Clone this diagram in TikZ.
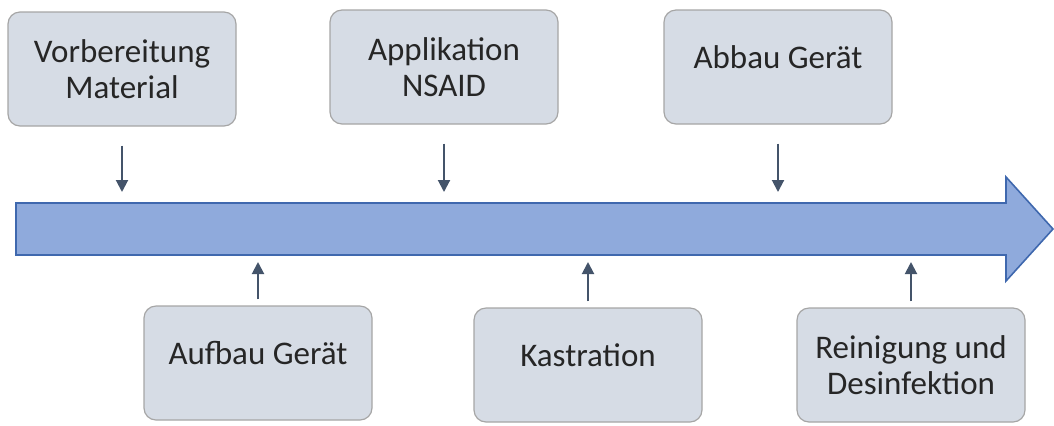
\documentclass[tikz,border=0pt]{standalone}
\usepackage{fontspec}
\setmainfont{Carlito}
\usepackage{tikz}
\usetikzlibrary{calc}
\usetikzlibrary{positioning}
\usetikzlibrary{arrows.meta}

\definecolor{boxfill}{HTML}{D6DCE5}
\definecolor{boxline}{HTML}{A6A6A6}
\definecolor{bandfill}{HTML}{8FAADC}
\definecolor{bandline}{HTML}{3F68AE}
\definecolor{tickcol}{HTML}{44546A}

\tikzset{
  stepbox/.style={draw=boxline, fill=boxfill, line width=.6pt, rounded corners=6pt,
    minimum width=114pt, minimum height=57pt, align=center,
    font=\fontsize{16.5}{18}\selectfont, text=black!85},
  oneline/.style={text depth=10pt},
  tick/.style={draw=tickcol, line width=1pt, -{Triangle[width=6pt,length=6pt]}}
}

\begin{document}
\begin{tikzpicture}[x=0.5pt, y=-0.5pt]
          \useasboundingbox (0,0) rectangle (1054,425);
          % timeline band
          \draw [fill=bandfill, draw=bandline, line width=.8pt]
            (16,203) -- (1006,203) -- (1006,177) -- (1053,229) -- (1006,281)
            -- (1006,255) -- (16,255) -- cycle;
          \coordinate (bandN) at (0,203);
          \coordinate (bandS) at (0,255);
          % upper steps
          \node [stepbox] (vorb) at (122,69) {Vorbereitung\\Material};
          \node [stepbox] (appl) at (444,67) {Applikation\\NSAID};
          \node [stepbox, oneline] (abbau) at (778,67) {Abbau Gerät};
          % lower steps
          \node [stepbox, oneline] (aufbau) at (258,363) {Aufbau Gerät};
          \node [stepbox, oneline] (kastr) at (588,365) {Kastration};
          \node [stepbox] (reinig) at (911,365) {Reinigung und\\Desinfektion};
          \foreach \s in {vorb, appl, abbau}{
            \draw [tick, shorten <=9.5pt, shorten >=5.5pt] (\s.south) -- (\s.south |- bandN);
          }
          \foreach \s in {aufbau, kastr, reinig}{
            \draw [tick, shorten <=3pt, shorten >=3.5pt] (\s.north) -- (\s.north |- bandS);
          }
        \end{tikzpicture}
\end{document}
